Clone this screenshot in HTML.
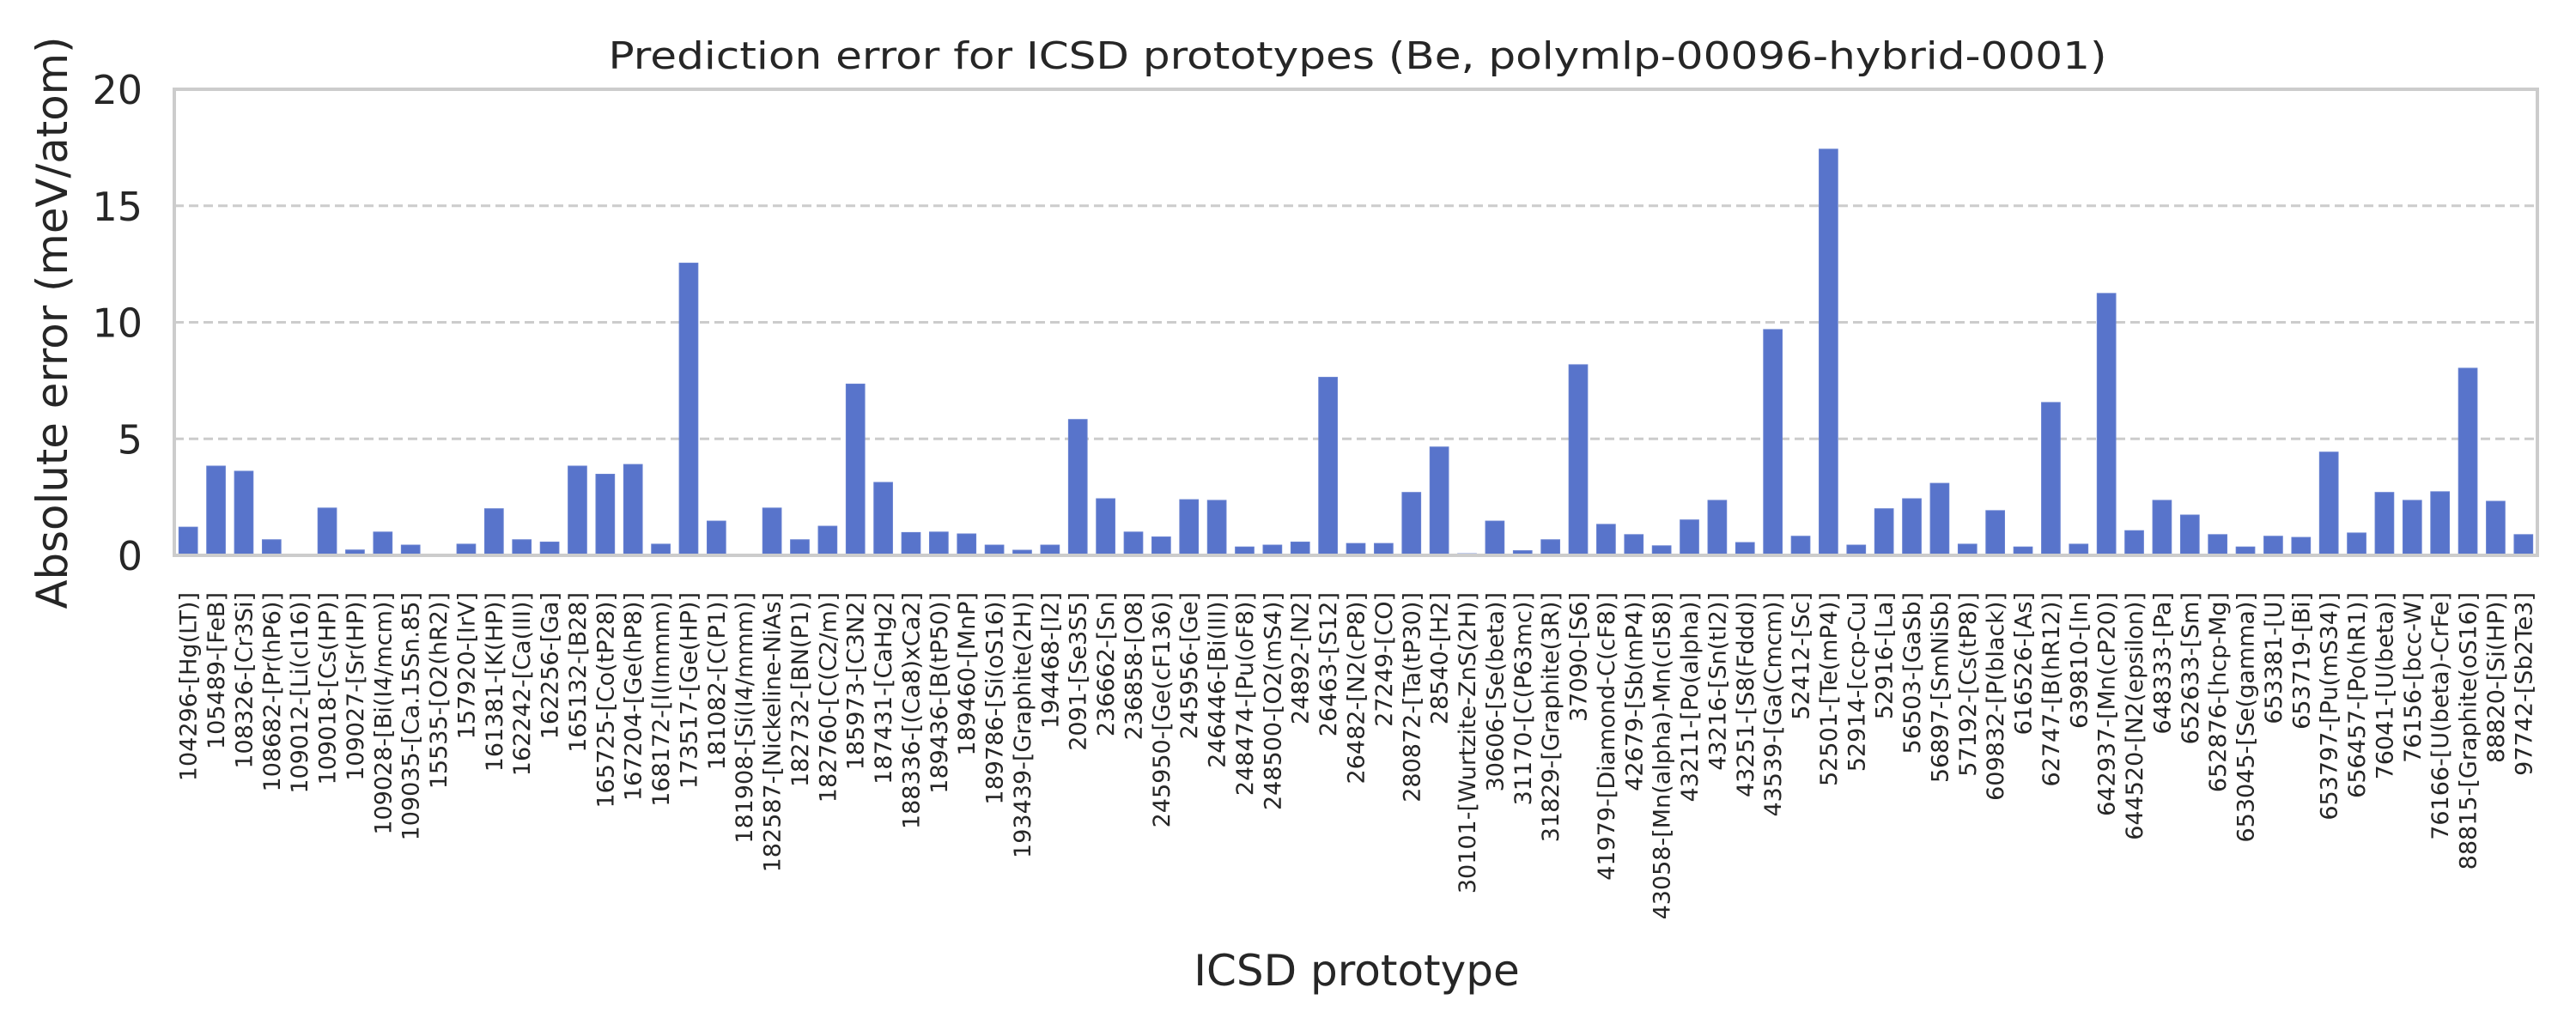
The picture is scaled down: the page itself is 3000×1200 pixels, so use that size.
<!DOCTYPE html>
<html><head><meta charset="utf-8"><style>
html,body{margin:0;padding:0;background:#fff;}
svg{display:block;font-family:"DejaVu Sans","Liberation Sans",sans-serif;}
</style></head><body>
<svg id="chart" width="3000" height="1200" viewBox="0 0 3000 1200" xmlns="http://www.w3.org/2000/svg">
<rect x="0" y="0" width="3000" height="1200" fill="#fff"/>
<text x="1581" y="80" font-size="44" fill="#262626" text-anchor="middle" textLength="1745" lengthAdjust="spacingAndGlyphs">Prediction error for ICSD prototypes (Be, polymlp-00096-hybrid-0001)</text>
<g id="grid"></g>
<g id="bars"></g>
<rect x="203" y="104" width="2752" height="543" fill="none" stroke="#cccccc" stroke-width="4"/>
<g id="yticks"></g>
<g id="xticks"></g>
<text transform="translate(78,376) rotate(-90)" font-size="50" fill="#262626" text-anchor="middle" textLength="667" lengthAdjust="spacingAndGlyphs">Absolute error (meV/atom)</text>
<text x="1580" y="1148" font-size="50" fill="#262626" text-anchor="middle">ICSD prototype</text>
</svg>
<script>
const categories = ["104296-[Hg(LT)]","105489-[FeB]","108326-[Cr3Si]","108682-[Pr(hP6)]","109012-[Li(cI16)]","109018-[Cs(HP)]","109027-[Sr(HP)]","109028-[Bi(I4/mcm)]","109035-[Ca.15Sn.85]","15535-[O2(hR2)]","157920-[IrV]","161381-[K(HP)]","162242-[Ca(III)]","162256-[Ga]","165132-[B28]","165725-[Co(tP28)]","167204-[Ge(hP8)]","168172-[I(Immm)]","173517-[Ge(HP)]","181082-[C(P1)]","181908-[Si(I4/mmm)]","182587-[Nickeline-NiAs]","182732-[BN(P1)]","182760-[C(C2/m)]","185973-[C3N2]","187431-[CaHg2]","188336-[(Ca8)xCa2]","189436-[B(tP50)]","189460-[MnP]","189786-[Si(oS16)]","193439-[Graphite(2H)]","194468-[I2]","2091-[Se3S5]","236662-[Sn]","236858-[O8]","245950-[Ge(cF136)]","245956-[Ge]","246446-[Bi(III)]","248474-[Pu(oF8)]","248500-[O2(mS4)]","24892-[N2]","26463-[S12]","26482-[N2(cP8)]","27249-[CO]","280872-[Ta(tP30)]","28540-[H2]","30101-[Wurtzite-ZnS(2H)]","30606-[Se(beta)]","31170-[C(P63mc)]","31829-[Graphite(3R)]","37090-[S6]","41979-[Diamond-C(cF8)]","42679-[Sb(mP4)]","43058-[Mn(alpha)-Mn(cI58)]","43211-[Po(alpha)]","43216-[Sn(tI2)]","43251-[S8(Fddd)]","43539-[Ga(Cmcm)]","52412-[Sc]","52501-[Te(mP4)]","52914-[ccp-Cu]","52916-[La]","56503-[GaSb]","56897-[SmNiSb]","57192-[Cs(tP8)]","609832-[P(black)]","616526-[As]","62747-[B(hR12)]","639810-[In]","642937-[Mn(cP20)]","644520-[N2(epsilon)]","648333-[Pa]","652633-[Sm]","652876-[hcp-Mg]","653045-[Se(gamma)]","653381-[U]","653719-[Bi]","653797-[Pu(mS34)]","656457-[Po(hR1)]","76041-[U(beta)]","76156-[bcc-W]","76166-[U(beta)-CrFe]","88815-[Graphite(oS16)]","88820-[Si(HP)]","97742-[Sb2Te3]"];
const errors = [1.21,3.83,3.61,0.67,0.02,2.03,0.23,1.0,0.44,0.02,0.48,2.0,0.67,0.57,3.83,3.48,3.9,0.48,12.54,1.47,0.02,2.03,0.67,1.25,7.35,3.13,0.98,1.0,0.92,0.44,0.22,0.44,5.83,2.43,1.0,0.79,2.39,2.36,0.36,0.44,0.57,7.64,0.51,0.51,2.70,4.65,0.07,1.47,0.2,0.67,8.18,1.33,0.89,0.41,1.52,2.36,0.55,9.69,0.82,17.43,0.44,2.0,2.43,3.09,0.48,1.92,0.36,6.56,0.48,11.24,1.06,2.36,1.73,0.89,0.36,0.82,0.77,4.43,0.96,2.70,2.36,2.73,8.03,2.32,0.89];
const yTicks = [0,5,10,15,20];

const NS = "http://www.w3.org/2000/svg";
const L = 203, R = 2955, T = 104, B = 647, YMAX = 20;
const step = (R - L) / categories.length;
function xScale(i){ return L + step * (i + 0.5); }
function yScale(v){ return B - (B - T) * v / YMAX; }

const grid = document.getElementById('grid');
const yt = document.getElementById('yticks');
yTicks.forEach(function(t){
  if (t > 0 && t < YMAX) {
    const ln = document.createElementNS(NS, 'line');
    ln.setAttribute('x1', L); ln.setAttribute('x2', R);
    ln.setAttribute('y1', yScale(t)); ln.setAttribute('y2', yScale(t));
    ln.setAttribute('stroke', '#cccccc'); ln.setAttribute('stroke-width', '3');
    ln.setAttribute('stroke-dasharray', '11,6');
    
    
    grid.appendChild(ln);
  }
  const tx = document.createElementNS(NS, 'text');
  tx.setAttribute('x', 166); tx.setAttribute('y', yScale(t) + 17);
  tx.setAttribute('font-size', '46'); tx.setAttribute('fill', '#262626');
  tx.setAttribute('text-anchor', 'end');
  tx.textContent = t;
  
  
  yt.appendChild(tx);
});

const bars = document.getElementById('bars');
const xt = document.getElementById('xticks');
const bw = step * 0.67;
categories.forEach(function(c, i){
  const v = errors[i];
  const r = document.createElementNS(NS, 'rect');
  r.setAttribute('x', xScale(i) - bw / 2);
  r.setAttribute('y', yScale(v));
  r.setAttribute('width', bw);
  r.setAttribute('height', B - yScale(v));
  r.setAttribute('fill', '#5874cb');
  r.setAttribute('stroke', '#6680d0');
  r.setAttribute('stroke-width', '1');
  
  
  bars.appendChild(r);
  const tx = document.createElementNS(NS, 'text');
  tx.setAttribute('transform', 'translate(' + (xScale(i) + 9.5) + ',690) rotate(-90)');
  tx.setAttribute('font-size', '27'); tx.setAttribute('fill', '#262626');
  tx.setAttribute('text-anchor', 'end');
  tx.textContent = c;
  
  
  xt.appendChild(tx);
});
</script>
</body></html>
